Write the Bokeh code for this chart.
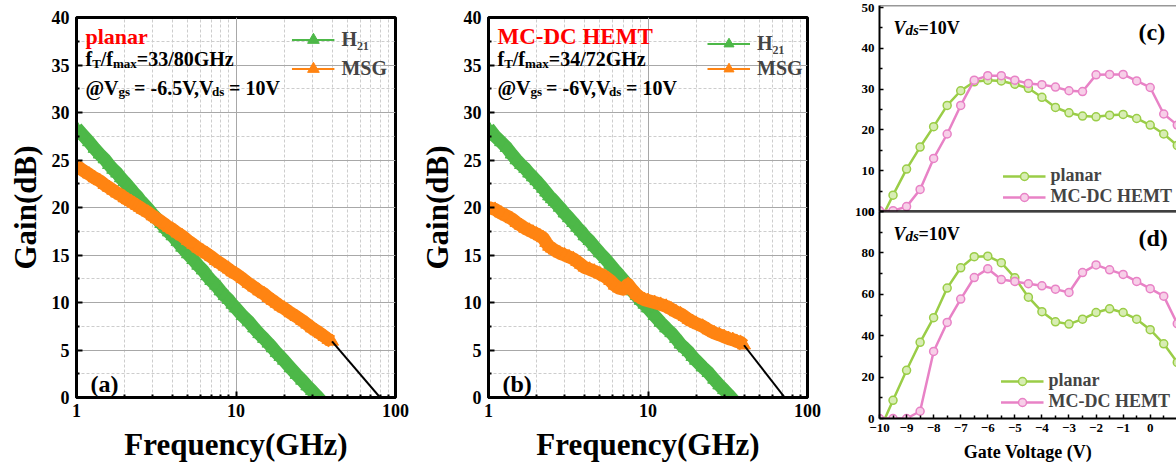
import numpy as np
from bokeh.plotting import figure
from bokeh.models import (FixedTicker, Label, Legend, LegendItem, Span,
                          BasicTickFormatter)
from bokeh.layouts import row, column
from bokeh.embed import file_html
from bokeh.resources import INLINE

FONT = "Liberation Serif"

# ---------------- data: panels (a) and (b) ----------------
freq = [1.0, 1.1, 1.2, 1.3, 1.4, 1.5, 1.6, 1.7, 1.8, 1.9, 2.0, 2.1, 2.2, 2.3, 2.4, 2.5,
        2.6, 2.8, 3.0, 3.2, 3.4, 3.6, 3.8, 4.0, 4.3, 4.6, 5.0, 5.4, 5.8, 6.2, 6.6, 7.0,
        7.5, 8.0, 8.5, 9.0, 9.5, 10, 11, 12, 13, 14, 15, 16, 17, 18, 19, 20, 22, 24,
        26, 28, 30, 32, 34, 36, 38, 40]
h21_planar = [28.4, 27.6, 26.9, 26.2, 25.6, 25.1, 24.5, 24.0, 23.6, 23.1, 22.7, 22.3,
              21.9, 21.5, 21.2, 20.8, 20.5, 19.9, 19.3, 18.8, 18.3, 17.8, 17.4, 17.0,
              16.4, 15.8, 15.1, 14.5, 13.9, 13.4, 12.8, 12.3, 11.8, 11.2, 10.7, 10.3,
              9.8, 9.4, 8.6, 8.0, 7.3, 6.7, 6.2, 5.7, 5.2, 4.7, 4.3, 3.9, 3.1, 2.4,
              1.8, 1.2, 0.7, 0.2, -0.3, -0.8, -1.2, -1.6]
msg_planar = [24.4, 23.9, 23.5, 23.1, 22.8, 22.4, 22.1, 21.8, 21.5, 21.3, 21.0, 20.8,
              20.6, 20.4, 20.2, 20.0, 19.8, 19.5, 19.1, 18.8, 18.5, 18.2, 17.9, 17.7,
              17.3, 17.0, 16.5, 16.1, 15.7, 15.4, 15.1, 14.8, 14.4, 14.1, 13.8, 13.5,
              13.2, 13.0, 12.5, 12.0, 11.6, 11.2, 10.9, 10.5, 10.2, 9.9, 9.6, 9.4,
              8.9, 8.5, 8.1, 7.7, 7.3, 7.0, 6.7, 6.4, 6.1, 5.9]
h21_mcdc = [28.4, 27.5, 26.9, 26.3, 25.6, 25.0, 24.5, 24.1, 23.6, 23.2, 22.8, 22.4,
            22.0, 21.6, 21.2, 20.9, 20.6, 20.0, 19.4, 18.9, 18.4, 17.9, 17.5, 17.0,
            16.5, 15.9, 15.2, 14.6, 14.0, 13.4, 12.9, 12.4, 11.8, 11.2, 10.7, 10.2,
            9.8, 9.4, 8.6, 7.9, 7.3, 6.8, 6.2, 5.6, 5.2, 4.8, 4.3, 3.9, 3.2, 2.6,
            1.9, 1.3, 0.8, 0.3, -0.2, -0.6, -1.1, -1.5]
msg_mcdc = [20.0, 19.8, 19.4, 19.1, 18.8, 18.4, 18.1, 17.8, 17.6, 17.4, 17.2, 17.0,
            16.8, 16.3, 15.9, 15.7, 15.5, 15.2, 15.0, 14.8, 14.6, 14.3, 14.0, 13.7,
            13.5, 13.3, 13.0, 12.7, 12.3, 11.8, 11.5, 11.4, 11.9, 11.3, 10.8, 10.5,
            10.3, 10.2, 10.0, 9.8, 9.6, 9.3, 9.0, 8.8, 8.5, 8.2, 8.0, 7.8, 7.5, 7.1,
            6.8, 6.6, 6.4, 6.2, 6.1, 5.9, 5.8, 5.5]
extrap_planar_f = [40, 80]
extrap_planar_g = [5.9, 0.0]
extrap_mcdc_f = [40, 72]
extrap_mcdc_g = [5.5, 0.0]

# ---------------- data: panels (c) and (d) ----------------
vgs = [-10, -9.5, -9, -8.5, -8, -7.5, -7, -6.5, -6, -5.5, -5, -4.5, -4, -3.5, -3,
       -2.5, -2, -1.5, -1, -0.5, 0, 0.5, 1]
ft_planar = [-2.7, 4.0, 10.4, 15.8, 20.8, 26.0, 29.6, 31.8, 32.2, 32.0, 31.2, 30.2,
             28.0, 25.5, 24.2, 23.4, 23.2, 23.6, 23.8, 22.8, 21.2, 19.0, 16.2]
ft_mcdc = [0.2, 0.2, 1.2, 5.4, 13.0, 19.0, 26.0, 32.2, 33.3, 33.3, 32.2, 31.4, 31.1,
           30.5, 29.6, 29.4, 33.5, 33.6, 33.6, 32.0, 30.4, 23.9, 21.2]
fmax_planar = [-5.9, 8.8, 23.3, 36.8, 48.7, 63.0, 72.8, 78.2, 78.4, 75.3, 68.0, 58.6,
               51.6, 46.7, 45.6, 48.0, 51.2, 53.0, 51.2, 48.0, 42.9, 36.1, 27.1]
fmax_mcdc = [0.0, 0.0, 0.0, 3.5, 32.4, 46.4, 57.7, 68.1, 72.3, 67.1, 66.2, 65.1, 64.1,
             62.5, 60.9, 70.5, 74.2, 71.8, 69.6, 66.2, 62.7, 59.1, 45.8]

GREEN = "#4DB848"
ORANGE = "#FF8412"
LGREEN = "#9ACD47"
PINK = "#E882C6"

H = 469
# ---------------- gain panels ----------------
FW, FT, FB = 319, 17, 397
FH = FB - FT


def gx(dx):
    return 10 ** (2.0 * dx / FW)


def gy(py):
    return 40.0 * (FB - py) / FH


def lab(p, x, y, text, size, style="bold", color="black", angle=0.0):
    p.add_layout(Label(x=x, y=y, text=text, text_font=FONT, text_font_size=size,
                       text_font_style=style, text_color=color, text_align="left",
                       text_baseline="alphabetic", angle=angle))


def gain_panel(width, left, right, h21, msg, exf, exg, title, ratio, vgs_txt,
               tag, leg_loc, leg_margin, leg_h, title_size):
    p = figure(width=width, height=H, x_axis_type="log", x_range=(1, 100),
               y_range=(0, 40), output_backend="svg", toolbar_location=None,
               min_border_left=left, min_border_right=right, min_border_top=FT,
               min_border_bottom=H - FB)
    p.outline_line_color = "black"
    p.outline_line_width = 3
    p.xaxis.ticker = FixedTicker(ticks=[1, 10, 100],
                                 minor_ticks=[2, 3, 4, 5, 6, 7, 8, 9,
                                              20, 30, 40, 50, 60, 70, 80, 90])
    p.xaxis.formatter = BasicTickFormatter()
    p.yaxis.ticker = FixedTicker(ticks=list(range(0, 41, 5)),
                                 minor_ticks=[2.5 + 5 * i for i in range(8)])
    for ax in (p.xaxis[0], p.yaxis[0]):
        ax.axis_line_width = 3
        ax.major_tick_in = 6
        ax.major_tick_out = 0
        ax.minor_tick_in = 3
        ax.minor_tick_out = 0
        ax.major_tick_line_width = 2
        ax.minor_tick_line_width = 2
        ax.major_label_text_font = FONT
        ax.major_label_text_font_style = "bold"
        ax.major_label_text_font_size = "18px"
        ax.major_label_text_color = "black"
        ax.axis_label_text_font = FONT
        ax.axis_label_text_font_style = "bold"
        ax.axis_label_text_font_size = "31px"
        ax.axis_label_text_color = "black"
    p.xaxis.major_label_standoff = 6
    p.yaxis.major_label_standoff = 7
    p.xaxis.axis_label_standoff = 7
    p.yaxis.axis_label_standoff = 6
    p.xaxis.axis_label = "Frequency(GHz)"
    p.yaxis.axis_label = "Gain(dB)"
    for g in (p.xgrid[0], p.ygrid[0]):
        g.grid_line_color = "#A8A8A8"
        g.grid_line_width = 1
        g.minor_grid_line_color = "#CDCDCD"
        g.minor_grid_line_dash = "3 2"
        g.minor_grid_line_width = 1

    p.line(freq, h21, line_width=13, color=GREEN, line_join="round")
    hl = p.line(freq, h21, line_width=2, color=GREEN)
    hs = p.scatter(freq, h21, marker="triangle", size=13, color=GREEN)
    p.line(freq, msg, line_width=13, color=ORANGE, line_join="round")
    ml = p.line(freq, msg, line_width=2, color=ORANGE)
    ms = p.scatter(freq, msg, marker="triangle", size=13, color=ORANGE)
    p.line(exf, exg, line_width=2, color="black")

    leg = Legend(items=[LegendItem(label="H₂₁", renderers=[hl, hs]),
                        LegendItem(label="MSG", renderers=[ml, ms])],
                 location=leg_loc, margin=leg_margin, padding=3,
                 glyph_width=43, glyph_height=leg_h, spacing=0,
                 label_standoff=7, label_text_font=FONT,
                 label_text_font_style="bold", label_text_font_size="20px",
                 background_fill_alpha=0, border_line_alpha=0)
    p.add_layout(leg)

    # annotations (page pixel positions)
    lab(p, gx(9), gy(36), title, title_size, color="#FF0000")
    lab(p, gx(9), gy(58), "f", "20px")
    lab(p, gx(15.7), gy(63), "T", "13px")
    lab(p, gx(24.3), gy(58), "/f", "20px")
    lab(p, gx(36.5), gy(63), "max", "13px")
    lab(p, gx(60.3), gy(58), ratio, "20px")
    v1, w1 = vgs_txt
    lab(p, gx(9), gy(87), "@V", "20px")
    lab(p, gx(42), gy(91), "gs", "13px")
    lab(p, gx(57.6), gy(87), v1, "20px")
    lab(p, gx(57.6 + w1), gy(91), "ds", "13px")
    lab(p, gx(57.6 + w1 + 17), gy(87), "= 10V", "20px")
    lab(p, gx(14), gy(383), tag, "24px")
    return p


pa = gain_panel(412, 76, 17, h21_planar, msg_planar, extrap_planar_f, extrap_planar_g,
                "planar", "=33/80GHz", ("= -6.5V,V", 78), "(a)", "top_right", 5, 29,
                "22px")
pb = gain_panel(416, 76, 21, h21_mcdc, msg_mcdc, extrap_mcdc_f, extrap_mcdc_g,
                "MC-DC HEMT", "=34/72GHz", ("= -6V,V", 63), "(b)", (216, 313), 0, 25,
                "23px")

# ---------------- voltage panels ----------------
CW = 348
XEND = -10 + (CW - 51) / 27.07
C_TOP, C_BOT = 5, 211
D_TOP, D_BOT = 211, 418
C_YEND = 50.5


def cx(px):
    return -10 + (px - 879) / 27.07


def cy(py):
    return C_YEND * (C_BOT - py) / (C_BOT - C_TOP)


def dy(py):
    return 100.0 * (D_BOT - py) / (D_BOT - D_TOP)


def style_axis(ax):
    ax.axis_line_width = 2
    ax.major_tick_in = 4
    ax.major_tick_out = 0
    ax.minor_tick_in = 3
    ax.minor_tick_out = 0
    ax.major_tick_line_width = 1.5
    ax.minor_tick_line_width = 1.5
    ax.major_label_text_font = FONT
    ax.major_label_text_font_style = "bold"
    ax.major_label_text_font_size = "13px"
    ax.major_label_text_color = "black"
    ax.major_label_standoff = 5
    ax.axis_label_text_font = FONT
    ax.axis_label_text_font_style = "bold"
    ax.axis_label_text_font_size = "18px"
    ax.axis_label_text_color = "black"


def volt_panel(height, top, bottom, yend, y1, y2, ticks, minor, leg_margin):
    p = figure(width=CW, height=height, x_range=(-10, XEND), y_range=(0, yend),
               output_backend="svg", toolbar_location=None, min_border_left=51,
               min_border_right=0, min_border_top=top, min_border_bottom=bottom)
    p.outline_line_color = None
    p.grid.visible = False
    p.yaxis.ticker = FixedTicker(ticks=ticks, minor_ticks=minor)
    style_axis(p.yaxis[0])
    l1 = p.line(vgs, y1, line_width=2.5, color=LGREEN)
    s1 = p.scatter(vgs, y1, marker="circle", size=8, line_color=LGREEN,
                   fill_color="#D8EDB4", line_width=1.5)
    l2 = p.line(vgs, y2, line_width=2.5, color=PINK)
    s2 = p.scatter(vgs, y2, marker="circle", size=8, line_color=PINK,
                   fill_color="#F7CFE8", line_width=1.5)
    leg = Legend(items=[LegendItem(label="planar", renderers=[l1, s1]),
                        LegendItem(label="MC-DC HEMT", renderers=[l2, s2])],
                 location="bottom_right", margin=leg_margin, padding=3, glyph_width=43,
                 glyph_height=20, spacing=0, label_standoff=5,
                 label_text_font=FONT, label_text_font_style="bold",
                 label_text_font_size="18px", background_fill_alpha=0,
                 border_line_alpha=0)
    p.add_layout(leg)
    return p


C_H = C_BOT + 10
pc = volt_panel(C_H, C_TOP, C_H - C_BOT, C_YEND, ft_planar, ft_mcdc,
                list(range(0, 51, 10)), [5, 15, 25, 35, 45], 1)
pc.xaxis.visible = False
pc.add_layout(Span(location=C_YEND, dimension="width", line_color="#333333",
                   line_width=1.5))
pc.add_layout(Span(location=0, dimension="width", line_color="black", line_width=2.5))
lab(pc, cx(893), cy(27), "V", "18px", style="bold italic")
lab(pc, cx(905), cy(29), "ds", "15px", style="bold italic")
lab(pc, cx(918), cy(27), "=10V", "18px")
lab(pc, cx(1138), cy(31), "(c)", "24px")
lab(pc, cx(853), cy(142), "f", "22px", style="bold italic", angle=np.pi / 2)
lab(pc, cx(856), cy(131), "T", "13px", style="bold italic", angle=np.pi / 2)
lab(pc, cx(853), cy(116), "(GHz)", "18px", angle=np.pi / 2)

OVER = 20
D_H = H - C_H + OVER
pd = volt_panel(D_H, OVER - 10, H - D_BOT, 100, fmax_planar, fmax_mcdc,
                list(range(0, 101, 20)), [10, 30, 50, 70, 90], 3)
pd.min_border_top = D_TOP - (C_H - OVER)
pd.margin = (-OVER, 0, 0, 0)
pd.border_fill_alpha = 0
pd.background_fill_alpha = 0
pd.xaxis.ticker = FixedTicker(ticks=list(range(-10, 2)),
                              minor_ticks=[-9.5 + i for i in range(12)])
style_axis(pd.xaxis[0])
pd.xaxis.major_label_standoff = 5
pd.xaxis.axis_label_standoff = 7
pd.xaxis.axis_label = "Gate Voltage (V)"
pd.add_layout(Span(location=100, dimension="width", line_color="black", line_width=2))
lab(pd, cx(893), dy(233), "V", "18px", style="bold italic")
lab(pd, cx(905), dy(235), "ds", "15px", style="bold italic")
lab(pd, cx(918), dy(233), "=10V", "18px")
lab(pd, cx(1138), dy(237), "(d)", "24px")
lab(pd, cx(848), dy(354), "f", "22px", style="bold italic", angle=np.pi / 2)
lab(pd, cx(851), dy(342), "max", "14px", style="bold italic", angle=np.pi / 2)
lab(pd, cx(848), dy(303), "(GHz)", "18px", angle=np.pi / 2)

layout = row(pa, pb, column(pc, pd))
open("out.html", "w").write(file_html(layout, INLINE))
